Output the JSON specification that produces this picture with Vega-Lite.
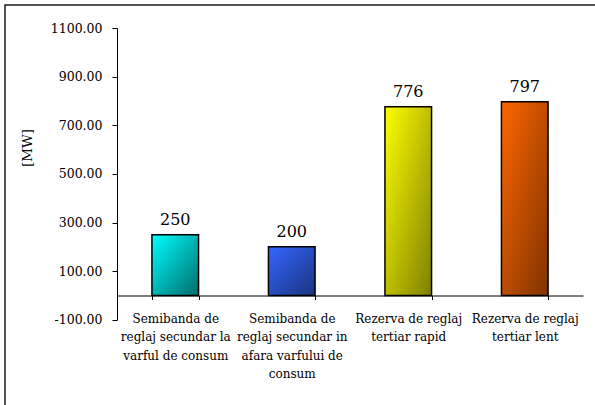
{
  "$schema": "https://vega.github.io/schema/vega-lite/v6.json",
  "width": 593,
  "height": 403,
  "autosize": {"type": "none"},
  "padding": {"left": 5, "top": 5, "right": -3, "bottom": -3},
  "background": "white",
  "config": {
    "view": {"stroke": "#1a1a1a", "strokeWidth": 1.5}
  },
  "data": {
    "values": [
      {"cat": "Semibanda de\nreglaj secundar la\nvarful de consum", "mw": 250},
      {"cat": "Semibanda de\nreglaj secundar in\nafara varfului de\nconsum", "mw": 200},
      {"cat": "Rezerva de reglaj\ntertiar rapid", "mw": 776},
      {"cat": "Rezerva de reglaj\ntertiar lent", "mw": 797}
    ]
  },
  "encoding": {
    "x": {
      "field": "cat",
      "type": "nominal",
      "sort": null,
      "scale": {"range": [112, 578], "paddingInner": 0.6, "paddingOuter": 0.3},
      "axis": {
        "title": null,
        "orient": "bottom",
        "offset": -112.5,
        "domainColor": "black",
        "domainWidth": 1,
        "tickColor": "black",
        "tickWidth": 1,
        "tickSize": 4,
        "tickBand": "extent",
        "labelExpr": "datum.value ? split(datum.value, '\\n') : ''",
        "labelFont": "DejaVu Serif",
        "labelFontSize": 12,
        "labelColor": "black",
        "labelLineHeight": 18.5,
        "labelPadding": 13.5,
        "labelAngle": 0,
        "labelLimit": 0,
        "labelOverlap": false,
        "labelFlush": false
      }
    },
    "y": {
      "field": "mw",
      "type": "quantitative",
      "scale": {"domain": [-100, 1100], "range": [314.8, 23], "nice": false, "zero": false},
      "axis": {
        "title": "[MW]",
        "values": [-100, 100, 300, 500, 700, 900, 1100],
        "labelExpr": "(datum.value < 0 ? '-' : '') + format(abs(datum.value), '.2f')",
        "offset": -112,
        "grid": false,
        "domainColor": "black",
        "domainWidth": 1,
        "tickColor": "black",
        "tickWidth": 1,
        "tickSize": 5,
        "labelPadding": 10,
        "labelFont": "DejaVu Serif",
        "labelFontSize": 12.5,
        "labelColor": "black",
        "labelOverlap": false,
        "titleFont": "DejaVu Serif",
        "titleFontSize": 13.5,
        "titleFontWeight": "normal",
        "titleColor": "black",
        "titleX": -89.5,
        "titleY": 142.5,
        "titleAngle": -90,
        "titleAlign": "center",
        "titleBaseline": "middle"
      }
    }
  },
  "layer": [
    {
      "mark": {"type": "bar", "stroke": "black", "strokeWidth": 1.5},
      "encoding": {
        "fill": {
          "condition": [
            {"test": "datum.mw == 250", "value": {"gradient": "linear", "x1": 0, "y1": 0, "x2": 1, "y2": 1, "stops": [{"offset": 0, "color": "#00FFFF"}, {"offset": 1, "color": "#006B6B"}]}},
            {"test": "datum.mw == 200", "value": {"gradient": "linear", "x1": 0, "y1": 0, "x2": 1, "y2": 1, "stops": [{"offset": 0, "color": "#3366FF"}, {"offset": 1, "color": "#1A347F"}]}},
            {"test": "datum.mw == 776", "value": {"gradient": "linear", "x1": 0, "y1": 0, "x2": 1, "y2": 1, "stops": [{"offset": 0, "color": "#FFFF00"}, {"offset": 1, "color": "#7F7F00"}]}}
          ],
          "value": {"gradient": "linear", "x1": 0, "y1": 0, "x2": 1, "y2": 1, "stops": [{"offset": 0, "color": "#FF6600"}, {"offset": 1, "color": "#7F3300"}]}
        }
      }
    },
    {
      "mark": {"type": "text", "font": "DejaVu Serif", "fontSize": 16, "baseline": "alphabetic", "dy": -10, "color": "black"},
      "encoding": {"text": {"field": "mw", "type": "quantitative"}}
    }
  ]
}
